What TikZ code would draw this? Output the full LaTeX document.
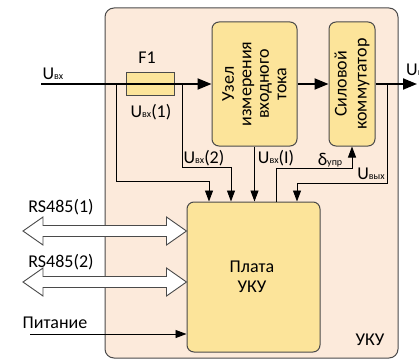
\documentclass[tikz,border=0pt]{standalone}
\usepackage{fontspec}
\setmainfont{Carlito}
\usetikzlibrary{arrows.meta,calc}
\definecolor{peach}{HTML}{FCEADB}
\definecolor{yel}{HTML}{FCE49A}
\definecolor{edge}{HTML}{4A4A4A}
\newcommand\sbs[1]{{\fontsize{10}{10}\selectfont #1}}
\begin{document}
\begin{tikzpicture}[x=1pt,y=-1pt,
  every node/.style={font=\fontsize{18}{19}\selectfont, inner sep=0pt},
  outerbox/.style={draw=edge, line width=1pt, fill=peach, rounded corners=9pt},
  ybox/.style={draw=edge, line width=1pt, fill=yel, rounded corners=7pt},
  fusebox/.style={draw=edge, line width=0.8pt, fill=yel},
  mainline/.style={line width=2pt, -{Triangle[length=14pt,width=11pt]}},
  tarr/.style={line width=0.9pt, -{Triangle[length=11pt,width=8pt]}},
  dblarrow/.style={draw=edge, line width=0.9pt, fill=white}]
\useasboundingbox (0,0) rectangle (419,361);
% outer box
\node[outerbox, minimum width=293pt, minimum height=350pt] (uku) at (251.5,183) {};
\node at (370,340) {УКУ};
% blocks
\node[fusebox, minimum width=48pt, minimum height=23pt] (f1) at (150,83.5) {};
\node[ybox, minimum width=85pt, minimum height=124pt] (uzel) at (254.5,84) {};
\node[rotate=90, align=center, font=\fontsize{18}{17.5}\selectfont] at (uzel) {Узел\\измерения\\входного\\тока};
\node[ybox, minimum width=46pt, minimum height=124pt] (sil) at (352,84) {};
\node[rotate=90, align=center, font=\fontsize{18}{20}\selectfont] at (sil) {Силовой\\коммутатор};
\node[ybox, minimum width=133pt, minimum height=150pt] (board) at (253.5,277) {};
\node[align=center, font=\fontsize{18}{20}\selectfont] at (252,277) {Плата\\УКУ};
% main line
\coordinate (in) at (41,84);
\coordinate (out) at (417,84);
\draw[mainline] (in) -- (uzel.west);
\draw[mainline] (uzel.east) -- (sil.west);
\draw[mainline] (sil.east) -- (out);
\node at (53,74) {U\sbs{вх}};
\node at (147,58) {F1};
\node at (151,112) {U\sbs{вх}(1)};
\node[anchor=west] at (406,70) {U\sbs{вых}};
% taps
\coordinate (t1) at (116,84);
\coordinate (t1b) at (116,181);
\coordinate (t1c) at (209,181);
\draw[tarr] (t1) -- (t1b) -- (t1c) -- (t1c |- board.north);
\coordinate (t2) at (182,84);
\coordinate (t2b) at (182,167);
\coordinate (t2c) at (231,167);
\draw[tarr] (t2) -- (t2b) -- (t2c) -- (t2c |- board.north);
\node at (204,158) {U\sbs{вх}(2)};
\draw[tarr] (uzel.south) -- (uzel.south |- board.north);
\node at (276,158) {U\sbs{вх}(I)};
\coordinate (d1) at (276,168);
\coordinate (d2) at (352,168);
\draw[tarr] (d1 |- board.north) -- (d1) -- (d2) -- (sil.south);
\node at (330,160) {δ\sbs{упр}};
\coordinate (v0) at (387,84);
\coordinate (v1) at (387,183);
\coordinate (v2) at (297,183);
\draw[tarr] (v0) -- (v1) -- (v2) -- (v2 |- board.north);
\node at (371,174) {U\sbs{вых}};
% RS485 double arrows
\coordinate (r1L) at (23,231);
\coordinate (r1R) at (board.west |- r1L);
\draw[dblarrow] (r1L) -- ($(r1L)+(20,-14)$) -- ($(r1L)+(20,-5.5)$) -- ($(r1R)+(-20,-5.5)$) -- ($(r1R)+(-20,-14)$) -- (r1R) -- ($(r1R)+(-20,14)$) -- ($(r1R)+(-20,5.5)$) -- ($(r1L)+(20,5.5)$) -- ($(r1L)+(20,14)$) -- cycle;
\node at (61,207) {RS485(1)};
\coordinate (r2L) at (23,282);
\coordinate (r2R) at (board.west |- r2L);
\draw[dblarrow] (r2L) -- ($(r2L)+(20,-14)$) -- ($(r2L)+(20,-5.5)$) -- ($(r2R)+(-20,-5.5)$) -- ($(r2R)+(-20,-14)$) -- (r2R) -- ($(r2R)+(-20,14)$) -- ($(r2R)+(-20,5.5)$) -- ($(r2L)+(20,5.5)$) -- ($(r2L)+(20,14)$) -- cycle;
\node at (61,262) {RS485(2)};
% power
\coordinate (pw) at (30,334);
\draw[tarr] (pw) -- (board.west |- pw);
\node at (55,323) {Питание};
\end{tikzpicture}
\end{document}
